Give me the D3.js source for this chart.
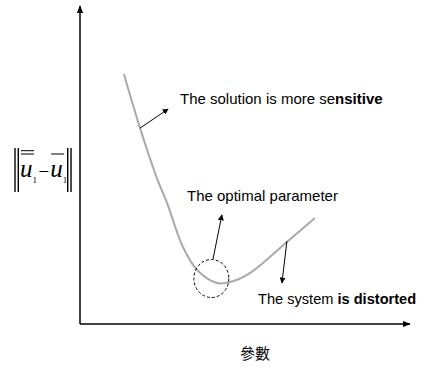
<!DOCTYPE html>
<html>
<head>
<meta charset="utf-8">
<script src="https://cdn.jsdelivr.net/npm/d3@7"></script>
<style>
  body { margin: 0; background: #fff; }
  svg { display: block; }
</style>
</head>
<body>
<div id="chart"></div>
<script>
// curve (parameter vs error norm, arbitrary units)
const paramValues = [1.33, 1.82, 2.33, 2.64, 3.12, 3.55, 4.15, 4.55, 5.15, 6.27, 7.12];
const normValues  = [7.86, 6.16, 4.59, 3.80, 2.42, 1.70, 1.29, 1.32, 1.60, 2.58, 3.33];

const annotationTexts = ["The solution is more ", "se", "nsitive"];
const xLabel = "參數";

const width = 421, height = 367;
const fontFamily = "'Liberation Sans', Arial, sans-serif";

const svg = d3.select("#chart").append("svg")
    .attr("width", width)
    .attr("height", height)
    .style("font-family", fontFamily);

const x = d3.scaleLinear().domain([0, 10]).range([80, 410]);
const y = d3.scaleLinear().domain([0, 10]).range([324, 6]);

const defs = svg.append("defs");
defs.append("marker")
    .attr("id", "arrow")
    .attr("viewBox", "0 0 10 10")
    .attr("refX", 9).attr("refY", 5)
    .attr("markerWidth", 6).attr("markerHeight", 6)
    .attr("markerUnits", "userSpaceOnUse")
    .attr("orient", "auto")
    .append("path").attr("d", "M0,0L10,5L0,10Z").attr("fill", "#000");
defs.append("marker")
    .attr("id", "axisArrow")
    .attr("viewBox", "0 0 10 10")
    .attr("refX", 9).attr("refY", 5)
    .attr("markerWidth", 8).attr("markerHeight", 8)
    .attr("markerUnits", "userSpaceOnUse")
    .attr("orient", "auto")
    .append("path").attr("d", "M0,1L10,5L0,9Z").attr("fill", "#000");

// axes
svg.append("line")
    .attr("x1", x(0)).attr("y1", y(0))
    .attr("x2", x(0)).attr("y2", y(10))
    .attr("stroke", "#000").attr("stroke-width", 1.5)
    .attr("marker-end", "url(#axisArrow)");
svg.append("line")
    .attr("x1", x(0)).attr("y1", y(0))
    .attr("x2", x(10)).attr("y2", y(0))
    .attr("stroke", "#000").attr("stroke-width", 1.5)
    .attr("marker-end", "url(#axisArrow)");

// curve
const pts = paramValues.map((p, i) => [p, normValues[i]]);
const line = d3.line()
    .x(d => x(d[0]))
    .y(d => y(d[1]))
    .curve(d3.curveCatmullRom);
svg.append("path")
    .attr("d", line(pts))
    .attr("fill", "none")
    .attr("stroke", "#aaa")
    .attr("stroke-width", 2);

// annotations
function arrow(x1, y1, x2, y2) {
    svg.append("line")
        .attr("x1", x(x1)).attr("y1", y(y1))
        .attr("x2", x(x2)).attr("y2", y(y2))
        .attr("stroke", "#000").attr("stroke-width", 1)
        .attr("marker-end", "url(#arrow)");
}
arrow(1.82, 6.16, 2.67, 6.76);
arrow(4.03, 2.04, 4.30, 3.43);
arrow(6.27, 2.61, 6.12, 1.29);

svg.append("ellipse")
    .attr("cx", x(3.98)).attr("cy", y(1.43))
    .attr("rx", 17.5).attr("ry", 19)
    .attr("fill", "none")
    .attr("stroke", "#000").attr("stroke-width", 1)
    .attr("stroke-dasharray", "3,2");

const t1 = svg.append("text")
    .attr("x", 180).attr("y", 104)
    .attr("font-size", 15).attr("fill", "#000");
t1.append("tspan").text(annotationTexts[0] + annotationTexts[1]);
t1.append("tspan").attr("font-weight", "bold").text(annotationTexts[2]);

svg.append("text")
    .attr("x", 187).attr("y", 201)
    .attr("font-size", 15).attr("fill", "#000")
    .text("The optimal parameter");

const t3 = svg.append("text")
    .attr("x", 258).attr("y", 304)
    .attr("font-size", 14.6).attr("fill", "#000");
t3.append("tspan").text("The system ");
t3.append("tspan").attr("font-weight", "bold").text("is distorted");

svg.append("text")
    .attr("x", 255).attr("y", 359)
    .attr("text-anchor", "middle")
    .attr("font-size", 15)
    .style("font-family", "'Noto Sans CJK TC', sans-serif")
    .text(xLabel);

// y label: ||u1 - u1|| with overlines, laid out left to right
const serif = "'Liberation Serif', 'Times New Roman', serif";
const yl = svg.append("g");
let cx = 20;
function piece(txt, size, dy, italic, gap) {
    const t = yl.append("text").attr("x", cx).attr("y", dy)
        .attr("font-size", size)
        .attr("font-style", italic ? "italic" : "normal")
        .style("font-family", serif).text(txt);
    const w = t.node().getComputedTextLength();
    const x0 = cx;
    cx += w + (gap || 0);
    return [x0, cx];
}
const u1 = piece("u", 25, 177, true, 0);
piece("1", 9, 183, false, 1.5);
piece("\u2212", 19, 178, false, 1);
const u2 = piece("u", 25, 177, true, 0);
piece("1", 9, 183, false, 0.5);
const rightBar = cx;
[15, 18.3, rightBar, rightBar + 3.3].forEach(xx => {
    yl.append("line")
        .attr("x1", xx).attr("x2", xx)
        .attr("y1", 148).attr("y2", 192)
        .attr("stroke", "#000").attr("stroke-width", 1.4);
});
[[u1, 150.7], [u1, 154], [u2, 154]].forEach(([r, yy]) => {
    yl.append("line")
        .attr("x1", r[0] + 1).attr("x2", r[1] + 1.5)
        .attr("y1", yy).attr("y2", yy)
        .attr("stroke", "#000").attr("stroke-width", 1);
});
</script>
</body>
</html>
